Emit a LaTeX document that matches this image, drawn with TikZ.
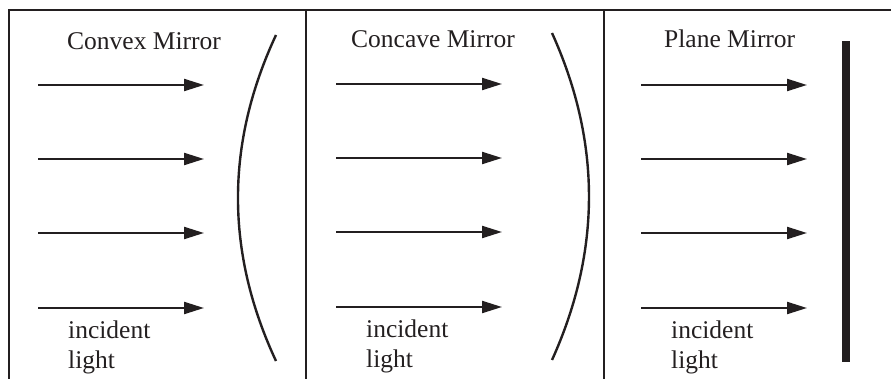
\documentclass[tikz,border=0pt]{standalone}
\usepackage{fontspec}
\setmainfont{Liberation Serif}
\usetikzlibrary{arrows.meta}

\definecolor{ink}{HTML}{231F20}

\tikzset{
  frameline/.style={line width=2pt, draw=ink},
  ray/.style={line width=2.2pt, draw=ink, -{Triangle[length=20pt, width=12pt]}},
  mirrorline/.style={line width=2.4pt, draw=ink},
  label/.style={font=\fontsize{25.5}{30}\selectfont, text=ink, inner sep=0pt, anchor=base west, align=left}
}

\begin{document}
\begin{tikzpicture}[x=1pt, y=-1pt]

  \useasboundingbox (0,0) rectangle (891,379);

  % Frame (open at the bottom and on the right)
  \draw[frameline] (9,379) -- (9,10) -- (891,10);
  \draw[frameline] (306,10) -- (306,379);
  \draw[frameline] (604,10) -- (604,379);

  % CONVEX MIRROR
  \node[label] (convtitle) at (67,50) {Convex Mirror};
  \foreach \y in {85,159,233,308}
    \draw[ray] (38,\y) -- (204,\y);
  \draw[mirrorline] (276,35) .. controls (225.3,143.7) and (225.3,252.3) .. (276,361);
  \node[label] (convinc) at (68,368) {incident\\light};

  % CONCAVE MIRROR
  \node[label] (conctitle) at (351,48) {Concave Mirror};
  \foreach \y in {84,158,232,307}
    \draw[ray] (336,\y) -- (502,\y);
  \draw[mirrorline] (552,33) .. controls (601.3,142) and (601.3,251) .. (552,360);
  \node[label] (concinc) at (366,367) {incident\\light};

  % PLANE MIRROR
  \node[label] (planetitle) at (664,48) {Plane Mirror};
  \foreach \y in {85,159,233,308}
    \draw[ray] (641,\y) -- (807,\y);
  \fill[ink] (842,41) rectangle (850,362);
  \node[label] (planeinc) at (671,368) {incident\\light};

\end{tikzpicture}
\end{document}
